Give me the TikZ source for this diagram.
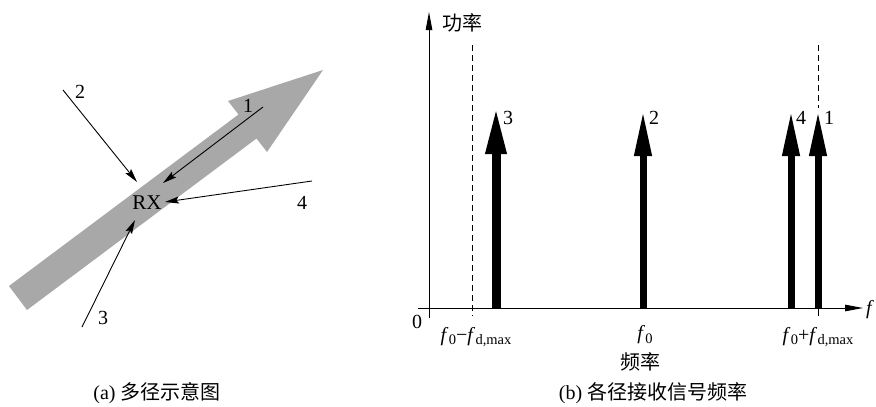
\documentclass[tikz,border=0pt]{standalone}
\usepackage{fontspec}
\setmainfont{Liberation Serif}
\newfontfamily\cjk{Noto Sans CJK SC}
\usetikzlibrary{arrows.meta}
\newcommand{\fsub}[1]{\textit{f}\kern0.3pt\raisebox{-0.35ex}{\fontsize{14.5}{14.5}\selectfont #1}}
\definecolor{movegray}{RGB}{168,168,168}
\begin{document}
\begin{tikzpicture}[x=1pt,y=-1pt,font=\fontsize{20}{20}\selectfont,
  ray/.style={line width=0.9pt,-{Stealth[length=14pt,width=7pt,inset=2.5pt]}},
  axisline/.style={line width=0.9pt,-{Triangle[length=18pt,width=6.5pt]}},
  spec/.style={line width=7pt,-{Triangle[length=46pt,width=16pt]}},
  guide/.style={line width=0.9pt,dash pattern=on 6pt off 4pt},
  lbl/.style={inner sep=0pt}]
\useasboundingbox (0,0) rectangle (876,407);
% ---------- (a) ----------
\fill[movegray] (9,286) -- (238.5,114.5) -- (228,101) -- (323,70) -- (267,152) -- (256.5,138.5) -- (27,310) -- cycle;
\coordinate (s1) at (263,107); \coordinate (e1) at (163,183);
\coordinate (s2) at (63,90);   \coordinate (e2) at (137,182);
\coordinate (s3) at (82,327);  \coordinate (e3) at (135,220);
\coordinate (s4) at (312,181); \coordinate (e4) at (165,202);
\draw[ray] (s1) -- (e1);
\draw[ray] (s2) -- (e2);
\draw[ray] (s3) -- (e3);
\draw[ray] (s4) -- (e4);
\node[lbl,font=\fontsize{21}{21}\selectfont] (rx) at (147,203) {RX};
\node[lbl] (l1) at (248,106) {1};
\node[lbl] (l2) at (80,92) {2};
\node[lbl] (l3) at (103,318) {3};
\node[lbl] (l4) at (302,203) {4};
\node[lbl] (capa) at (157,393) {(a) {\cjk 多径示意图}};
% ---------- (b) ----------
\coordinate (ybot) at (429,318); \coordinate (ytop) at (429,12);
\coordinate (xl) at (418,308); \coordinate (xr) at (863,308);
\draw[axisline] (ybot) -- (ytop);
\draw[axisline] (xl) -- (xr);
\node[lbl] (ylab) at (462,23) {\cjk 功率};
\node[lbl] (xlab) at (870,310) {\textit{f}};
\node[lbl] (zero) at (417,322) {0};
% guides
\coordinate (gl1) at (472,45); \coordinate (gl2) at (472,316);
\coordinate (gr1) at (818,45); \coordinate (gr2) at (818,108);
\coordinate (tk1) at (818,308); \coordinate (tk2) at (818,316);
\draw[guide] (gl1) -- (gl2);
\draw[guide] (gr1) -- (gr2);
\draw[line width=0.9pt] (tk1) -- (tk2);
% spectral lines
\coordinate (b3) at (496,308); \coordinate (t3) at (496,106);
\coordinate (b2) at (643,308); \coordinate (t2) at (643,110);
\coordinate (b4) at (791,308); \coordinate (t4) at (791,110);
\coordinate (b1) at (818,308); \coordinate (t1) at (818,110);
\draw[line width=9pt,-{Triangle[length=48pt,width=19pt]}] (b3) -- (t3);
\draw[spec] (b2) -- (t2);
\draw[spec] (b4) -- (t4);
\draw[spec] (b1) -- (t1);
\node[lbl] (n3) at (508,118) {3};
\node[lbl] (n2) at (654,118) {2};
\node[lbl] (n4) at (801,118) {4};
\node[lbl] (n1) at (829,118) {1};
\node[lbl] (fm) at (476,337) {\fsub{0}−\fsub{d,max}};
\node[lbl] (f0) at (645,335) {\fsub{0}};
\node[lbl] (fp) at (818,337) {\fsub{0}+\fsub{d,max}};
\node[lbl] (frq) at (640,362) {\cjk 频率};
\node[lbl] (capb) at (653,393) {(b) {\cjk 各径接收信号频率}};
\end{tikzpicture}
\end{document}
